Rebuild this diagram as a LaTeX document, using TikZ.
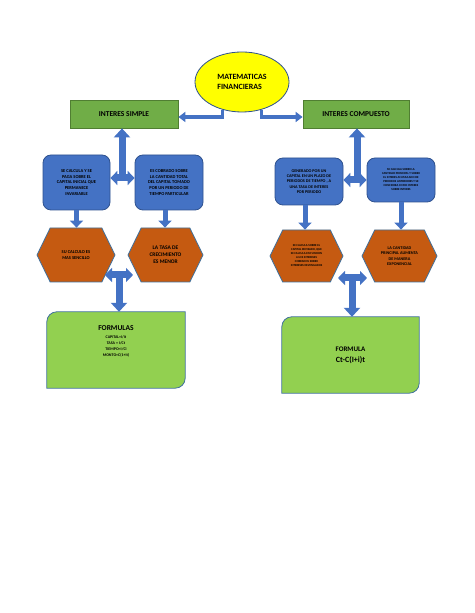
\documentclass[tikz,border=0pt]{standalone}
\usepackage{fontspec}
\setmainfont{Carlito}
\usetikzlibrary{positioning,calc,arrows.meta,shapes.geometric,shapes.symbols}
\definecolor{mfblue}{HTML}{4472C4}
\definecolor{mfdarkblue}{HTML}{2F528F}
\definecolor{mfgreen}{HTML}{70AD47}
\definecolor{mfdarkgreen}{HTML}{507E32}
\definecolor{mforange}{HTML}{C55A11}
\definecolor{mflime}{HTML}{92D050}
\definecolor{mfgrey}{HTML}{41719C}
\definecolor{mfyellow}{HTML}{FFFF00}
\newcommand\mfsize[2]{\fontsize{#1}{#2}\selectfont\bfseries}

\begin{document}
\begin{tikzpicture}[x=1pt,y=1pt,
  every node/.style={align=center,inner sep=1pt},
  titlebox/.style={rectangle,draw=mfdarkgreen,fill=mfgreen,line width=.8pt,font=\mfsize{7.5}{8}},
  bluebox/.style={rectangle,rounded corners=8pt,draw=mfdarkblue,fill=mfblue,line width=.8pt},
  hexbox/.style={signal,signal to=west and east,signal pointer angle=128,draw=mfgrey,fill=mforange,line width=.8pt},
  limebox/.style={draw=mfgrey,fill=mflime,line width=.8pt},
  linkarrow/.style={draw=mfblue,line width=3.5pt,-{Triangle[width=10pt,length=7pt]}},
  downarrow/.style={draw=mfblue,line width=5pt,-{Triangle[width=13pt,length=7pt]}},
  bigarrow/.style={draw=mfblue,line width=7pt,-{Triangle[width=16pt,length=9pt]}},
  bothways/.style={draw=mfblue,line width=7pt,{Triangle[width=14pt,length=7pt]}-{Triangle[width=14pt,length=7pt]}}]
\useasboundingbox (0,0) rectangle (474,613);
\fill[white] (0,0) rectangle (474,613);

\node[ellipse,draw=mfdarkblue,fill=mfyellow,line width=.8pt,minimum width=94pt,minimum height=60pt,
  align=left,font=\mfsize{8}{10}] (mat) at (242,531) {MATEMATICAS\\FINANCIERAS};
\node[titlebox,minimum width=108pt,minimum height=28pt] (simple) at (124,499) {INTERES SIMPLE};
\node[titlebox,minimum width=106pt,minimum height=28pt] (comp) at (356,499) {INTERES COMPUESTO};

\node[bluebox,minimum width=67pt,minimum height=55pt,font=\mfsize{4.5}{5.6}] (s1) at (76.5,430.5)
  {SE CALCULA Y SE\\PAGA SOBRE EL\\CAPITAL INICIAL QUE\\PERMANECE\\INVARIABLE};
\node[bluebox,minimum width=68pt,minimum height=55pt,font=\mfsize{4.5}{5.6}] (s2) at (169,430.5)
  {ES COBRADO SOBRE\\LA CANTIDAD TOTAL\\DEL CAPITAL TOMADO\\POR UN PERIODO DE\\TIEMPO PARTICULAR};
\node[bluebox,minimum width=68pt,minimum height=47pt,font=\mfsize{4.2}{5.3}] (c1) at (309,431.5)
  {GENERADO POR UN\\CAPITAL EN UN PLAZO DE\\PERIODOS DE TIEMPO , A\\UNA TASA DE INTERES\\POR PERIODO};
\node[bluebox,minimum width=68pt,minimum height=44pt,font=\mfsize{3}{4}] (c2) at (401,433)
  {SE CALCULA SOBRE LA\\CANTIDAD PRINCIPAL Y SOBRE\\EL INTERES ACUMULADO DE\\PERIODOS ANTERIORES Y SE\\CONCIDERA COMO INTERES\\SOBRE INTERES};

\node[hexbox,minimum width=78pt,minimum height=54pt,font=\mfsize{4.5}{5.6}] (hs1) at (76,358)
  {SU CALCULO ES\\MAS SENCILLO};
\node[hexbox,minimum width=75pt,minimum height=54pt,font=\mfsize{5.5}{7}] (hs2) at (165.5,358)
  {LA TASA DE\\CRECIMIENTO\\ES MENOR};
\node[hexbox,minimum width=73pt,minimum height=52pt,font=\mfsize{3}{4}] (hc1) at (306.5,357)
  {SE CALCULA SOBRE EL\\CAPITAL REVISADO, QUE\\SE CALCULA EN FUNCION\\A LOS INTERESES\\COBRADOS SOBRE\\INTERESES DEVENGADOS};
\node[hexbox,minimum width=75pt,minimum height=52pt,font=\mfsize{4.2}{5.5}] (hc2) at (399.5,357)
  {LA CANTIDAD\\PRINCIPAL AUMENTA\\DE MANERA\\EXPONENCIAL};

\node[minimum width=138pt,minimum height=76pt] (fs) at (116,263) {};
\path[limebox] ([yshift=-10pt]fs.north west) arc[start angle=180,end angle=90,radius=10pt] -- (fs.north east)
  -- ([yshift=10pt]fs.south east) arc[start angle=0,end angle=-90,radius=10pt] -- (fs.south west) -- cycle;
\node[font=\mfsize{4}{6}] (fstext) at ([yshift=9pt]fs.center)
  {{\fontsize{7.5}{9}\selectfont FORMULAS}\\[2pt]CAPITAL=I/it\\TASA = I/Ct\\TIEMPO=I/Ci\\MONTO=C(1+it)};
\node[minimum width=137pt,minimum height=76pt] (fc) at (350.5,258) {};
\path[limebox] ([yshift=-10pt]fc.north west) arc[start angle=180,end angle=90,radius=10pt] -- (fc.north east)
  -- ([yshift=10pt]fc.south east) arc[start angle=0,end angle=-90,radius=10pt] -- (fc.south west) -- cycle;
\node[font=\mfsize{7}{11}] (fctext) at (fc.center) {FORMULA\\{\fontsize{8}{9}\selectfont Ct-C(I+i)t}};

\draw[linkarrow] (mat.235) |- ([yshift=-3pt]simple.east);
\draw[linkarrow] (mat.305) |- ([yshift=-3pt]comp.west);

\coordinate (js) at (122,435);
\coordinate (jc) at (357,433);
\draw[bigarrow] (js) -- (js |- simple.south);
\draw[bothways] (s1.east |- js) -- (s2.west |- js);
\draw[bigarrow] (jc) -- (jc |- comp.south);
\draw[bothways] (c1.east |- jc) -- (c2.west |- jc);

\draw[downarrow] (s1.south) -- (s1.south |- hs1.north);
\draw[downarrow] ([xshift=-4pt]s2.south) -- ([xshift=-4pt]s2.south |- hs2.north);
\draw[downarrow] ([xshift=-4pt]c1.south) -- ([xshift=-4pt]c1.south |- hc1.north);
\draw[downarrow] (c2.south) -- (c2.south |- hc2.north);

\coordinate (jbs) at (119,338);
\coordinate (jbsl) at (105,338);
\coordinate (jbsr) at (133,338);
\coordinate (jbc) at (352,335);
\coordinate (jbcl) at (338,335);
\coordinate (jbcr) at (367,335);
\draw[bigarrow] (jbs) -- (jbs |- fs.north);
\draw[bothways] (jbsl) -- (jbsr);
\draw[bigarrow] (jbc) -- (jbc |- fc.north);
\draw[bothways] (jbcl) -- (jbcr);
\end{tikzpicture}
\end{document}
